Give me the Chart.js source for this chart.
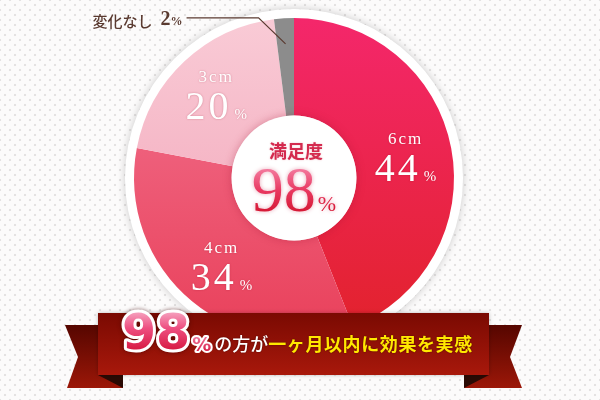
<!DOCTYPE html>
<html lang="ja">
<head>
<meta charset="utf-8">
<title>満足度 98%</title>
<script src="https://cdn.jsdelivr.net/npm/chart.js@4/dist/chart.umd.min.js"></script>
<style>
  html, body {
    margin: 0;
    padding: 0;
    width: 600px;
    height: 400px;
    overflow: hidden;
    background-color: #fcfbfb;
    background-image:
      radial-gradient(#e4e2e2 1px, transparent 1.6px),
      radial-gradient(#e4e2e2 1px, transparent 1.6px);
    background-size: 10px 10px;
    background-position: 0 0, 5px 5px;
  }
  #chart { display: block; }
</style>
</head>
<body>
<canvas id="chart" width="600" height="400"></canvas>
<script>
// データ
const categories = ['6cm', '4cm', '3cm', '変化なし'];
const percents = [44, 34, 20, 2];
const centerTitle = '満足度';
const satisfaction = 98;
const bannerLead = 'の方が';
const bannerText = '一ヶ月以内に効果を実感';

// スライスの色（上 → 下のグラデーション）
const sliceTop = ['#f4276b', '#f27592', '#f9cbd6', '#8c8c8c'];
const sliceBottom = ['#e2222b', '#e9405a', '#f19fb4', '#8c8c8c'];

const SERIF = '"Liberation Serif", "DejaVu Serif", serif';
const JP = '"Noto Sans CJK JP", "Noto Sans", sans-serif';
const ROUND = '"DejaVu Sans", "Noto Sans", sans-serif';

function sliceGradient(context) {
    const chart = context.chart;
    const area = chart.chartArea;
    const i = context.dataIndex;
    if (!area) return sliceBottom[i];
    const g = chart.ctx.createLinearGradient(0, area.top, 0, area.bottom);
    g.addColorStop(0, sliceTop[i]);
    g.addColorStop(1, sliceBottom[i]);
    return g;
}

// 白いリング（円の外周）
const ringPlugin = {
    id: 'ring',
    beforeDatasetsDraw(chart) {
        const arc = chart.getDatasetMeta(0).data[0];
        if (!arc) return;
        const ctx = chart.ctx;
        ctx.save();
        ctx.shadowColor = 'rgba(0,0,0,0.2)';
        ctx.shadowBlur = 9;
        ctx.fillStyle = '#ffffff';
        ctx.beginPath();
        ctx.arc(arc.x, arc.y, arc.outerRadius + 9, 0, Math.PI * 2);
        ctx.fill();
        ctx.restore();
    }
};

// スライスのラベル
function drawSliceLabel(ctx, x, y, name, pct) {
    ctx.save();
    ctx.fillStyle = '#ffffff';
    ctx.shadowColor = 'rgba(140,0,30,0.35)';
    ctx.shadowBlur = 2;
    ctx.textBaseline = 'alphabetic';

    ctx.textAlign = 'center';
    ctx.font = '17px ' + SERIF;
    ctx.letterSpacing = '2px';
    ctx.fillText(name, x, y - 13);

    ctx.textAlign = 'left';
    ctx.font = '40px ' + SERIF;
    ctx.letterSpacing = '3px';
    const numText = String(pct);
    const w1 = ctx.measureText(numText).width;
    ctx.font = '15px ' + SERIF;
    ctx.letterSpacing = '0px';
    const w2 = ctx.measureText('%').width;
    const start = x - (w1 + 3 + w2) / 2;
    ctx.font = '40px ' + SERIF;
    ctx.letterSpacing = '3px';
    ctx.fillText(numText, start, y + 24);
    ctx.font = '15px ' + SERIF;
    ctx.letterSpacing = '0px';
    ctx.fillText('%', start + w1 + 3, y + 24);
    ctx.restore();
}

// 中央の「満足度 98%」
function drawCenter(ctx, arc) {
    const cx = arc.x, cy = arc.y;
    ctx.save();
    ctx.shadowColor = 'rgba(160,20,50,0.35)';
    ctx.shadowBlur = 9;
    ctx.fillStyle = '#ffffff';
    ctx.beginPath();
    ctx.arc(cx, cy, arc.innerRadius, 0, Math.PI * 2);
    ctx.fill();
    ctx.restore();

    ctx.save();
    ctx.textAlign = 'center';
    ctx.textBaseline = 'middle';
    ctx.font = '600 18px ' + JP;
    ctx.shadowColor = 'rgba(200,40,70,0.3)';
    ctx.shadowBlur = 2;
    ctx.fillStyle = '#d42a4e';
    ctx.fillText(centerTitle, cx + 2, cy - 27);
    ctx.restore();

    ctx.save();
    ctx.textAlign = 'left';
    ctx.textBaseline = 'alphabetic';
    ctx.font = '64px ' + SERIF;
    const num = String(satisfaction);
    const w1 = ctx.measureText(num).width;
    ctx.font = '22px ' + SERIF;
    const w2 = ctx.measureText('%').width;
    const start = cx - (w1 + 2 + w2) / 2;
    const base = cy + 33;
    const g = ctx.createLinearGradient(0, base - 44, 0, base);
    g.addColorStop(0, '#f47fa3');
    g.addColorStop(0.55, '#e8375f');
    g.addColorStop(1, '#d61a36');
    ctx.shadowColor = 'rgba(200,30,70,0.4)';
    ctx.shadowBlur = 4;
    ctx.fillStyle = g;
    ctx.font = '64px ' + SERIF;
    ctx.fillText(num, start, base);
    ctx.font = '22px ' + SERIF;
    ctx.fillText('%', start + w1 + 2, base);
    ctx.restore();
}

// 「変化なし 2%」の引き出し線
function drawLeader(ctx, arc, name, pct) {
    const mid = (arc.startAngle + arc.endAngle) / 2;
    const r = arc.outerRadius * 0.84;
    const ax = arc.x + Math.cos(mid) * r;
    const ay = arc.y + Math.sin(mid) * r;
    const ex = ax - 27, ey = ay - 26;
    const lx = ex - 72;

    ctx.save();
    ctx.strokeStyle = '#5a3a30';
    ctx.lineWidth = 1.2;
    ctx.beginPath();
    ctx.moveTo(ax, ay);
    ctx.lineTo(ex, ey);
    ctx.lineTo(lx, ey);
    ctx.stroke();

    ctx.fillStyle = '#5a3a30';
    ctx.textBaseline = 'middle';
    ctx.textAlign = 'right';
    let x = lx - 4;
    ctx.font = 'bold 12px ' + SERIF;
    ctx.fillText('%', x, ey + 4);
    x -= ctx.measureText('%').width;
    ctx.font = 'bold 20px ' + SERIF;
    ctx.fillText(String(pct), x, ey + 2);
    x -= ctx.measureText(String(pct)).width + 8;
    ctx.font = '500 15px ' + JP;
    ctx.fillText(name, x, ey + 3);
    ctx.restore();
}

// 下のリボン
function drawBanner(ctx) {
    const top = 313, bottom = 375, left = 98, right = 489;
    ctx.save();

    // 左右の尾
    const tg = ctx.createLinearGradient(0, 325, 0, 388);
    tg.addColorStop(0, '#560600');
    tg.addColorStop(1, '#9c1708');
    ctx.fillStyle = tg;
    ctx.beginPath();
    ctx.moveTo(65, 325); ctx.lineTo(left + 2, 325); ctx.lineTo(123, 388);
    ctx.lineTo(67, 388); ctx.lineTo(78, 357); ctx.closePath();
    ctx.fill();
    ctx.beginPath();
    ctx.moveTo(522, 325); ctx.lineTo(right - 2, 325); ctx.lineTo(464, 388);
    ctx.lineTo(522, 388); ctx.lineTo(510, 357); ctx.closePath();
    ctx.fill();

    // 折り返し
    ctx.fillStyle = '#2a0a04';
    ctx.beginPath();
    ctx.moveTo(left, bottom); ctx.lineTo(123, bottom); ctx.lineTo(123, 388); ctx.closePath();
    ctx.fill();
    ctx.beginPath();
    ctx.moveTo(right, bottom); ctx.lineTo(464, bottom); ctx.lineTo(464, 388); ctx.closePath();
    ctx.fill();

    // 本体
    const bg = ctx.createLinearGradient(0, top, 0, bottom);
    bg.addColorStop(0, '#7a0a02');
    bg.addColorStop(1, '#a8180b');
    ctx.shadowColor = 'rgba(0,0,0,0.25)';
    ctx.shadowBlur = 4;
    ctx.fillStyle = bg;
    ctx.fillRect(left, top, right - left, bottom - top);
    ctx.restore();

    // 「98%」
    ctx.save();
    ctx.textAlign = 'left';
    ctx.textBaseline = 'alphabetic';
    ctx.lineJoin = 'round';
    const base = 349;
    ctx.font = 'bold 49px ' + ROUND;
    const num = String(satisfaction);
    const w1 = ctx.measureText(num).width;
    const x0 = 122;
    const pg = ctx.createLinearGradient(0, base - 38, 0, base);
    pg.addColorStop(0, '#f6a6c2');
    pg.addColorStop(0.45, '#ee4f81');
    pg.addColorStop(1, '#d81c45');
    ctx.shadowColor = 'rgba(60,0,0,0.6)';
    ctx.shadowBlur = 4;
    ctx.strokeStyle = '#ffffff';
    ctx.lineWidth = 6;
    ctx.strokeText(num, x0, base);
    ctx.shadowColor = 'transparent';
    ctx.fillStyle = pg;
    ctx.fillText(num, x0, base);

    ctx.font = 'bold 19px ' + ROUND;
    const px = x0 + w1 + 2;
    const pg2 = ctx.createLinearGradient(0, base - 15, 0, base + 2);
    pg2.addColorStop(0, '#f48bb0');
    pg2.addColorStop(1, '#d81c45');
    ctx.lineWidth = 4;
    ctx.strokeText('%', px, base + 2);
    ctx.fillStyle = pg2;
    ctx.fillText('%', px, base + 2);
    const wp = ctx.measureText('%').width;

    // テキスト
    ctx.textBaseline = 'middle';
    ctx.font = '500 18px ' + JP;
    ctx.shadowColor = 'rgba(50,0,0,0.7)';
    ctx.shadowBlur = 2;
    ctx.fillStyle = '#ffffff';
    const tx = px + wp + 3;
    ctx.fillText(bannerLead, tx, 344);
    const wl = ctx.measureText(bannerLead).width;
    ctx.font = 'bold 18px ' + JP;
    ctx.letterSpacing = '0.6px';
    ctx.fillStyle = '#ffe800';
    ctx.fillText(bannerText, tx + wl, 344);
    ctx.restore();
}

const overlayPlugin = {
    id: 'overlay',
    afterDatasetsDraw(chart) {
        const ctx = chart.ctx;
        const arcs = chart.getDatasetMeta(0).data;
        if (!arcs.length) return;

        drawCenter(ctx, arcs[0]);

        arcs.forEach((arc, i) => {
            if (i === arcs.length - 1) return;
            const mid = (arc.startAngle + arc.endAngle) / 2;
            const r = arc.outerRadius * 0.71;
            drawSliceLabel(ctx, arc.x + Math.cos(mid) * r, arc.y + Math.sin(mid) * r,
                categories[i], percents[i]);
        });

        const last = arcs.length - 1;
        drawLeader(ctx, arcs[last], categories[last], percents[last]);

        drawBanner(ctx);
    }
};

document.addEventListener('DOMContentLoaded', function() {
    const ctx = document.getElementById('chart').getContext('2d');
    new Chart(ctx, {
        type: 'doughnut',
        data: {
            labels: categories,
            datasets: [{
                data: percents,
                backgroundColor: sliceGradient,
                borderWidth: 0,
                hoverOffset: 0
            }]
        },
        options: {
            responsive: false,
            animation: false,
            cutout: '39%',
            layout: {
                padding: { left: 134, right: 146, top: 18, bottom: 62 }
            },
            plugins: {
                legend: { display: false },
                tooltip: { enabled: false }
            },
            events: []
        },
        plugins: [ringPlugin, overlayPlugin]
    });
});
</script>
</body>
</html>
